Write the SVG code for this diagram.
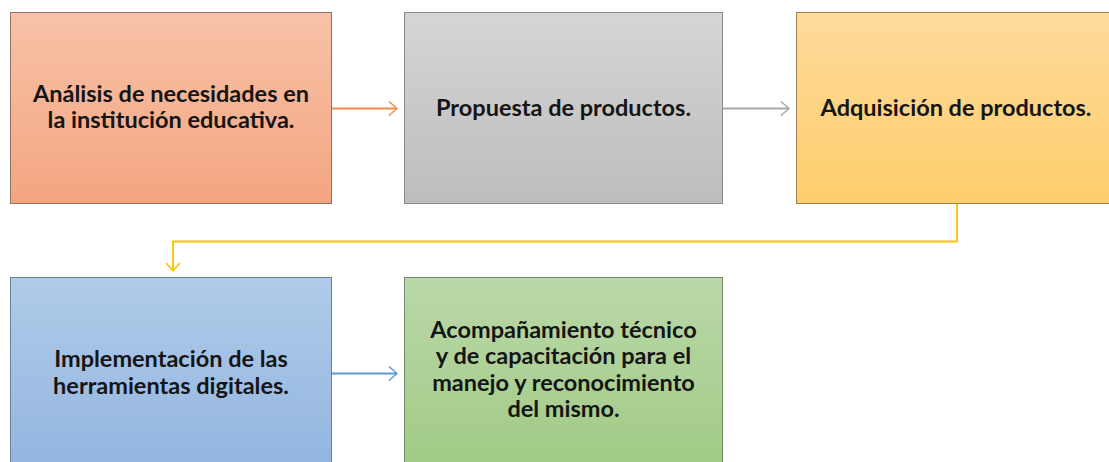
<svg xmlns="http://www.w3.org/2000/svg" width="1109" height="462" viewBox="0 0 1109 462">
<defs>
<linearGradient id="gOrange" x1="0" y1="0" x2="0" y2="1"><stop offset="0" stop-color="#F8C2A8"/><stop offset="1" stop-color="#F4A580"/></linearGradient>
<linearGradient id="gGray" x1="0" y1="0" x2="0" y2="1"><stop offset="0" stop-color="#D5D5D5"/><stop offset="1" stop-color="#BDBDBD"/></linearGradient>
<linearGradient id="gYellow" x1="0" y1="0" x2="0" y2="1"><stop offset="0" stop-color="#FEDB9C"/><stop offset="1" stop-color="#FECD6C"/></linearGradient>
<linearGradient id="gBlue" x1="0" y1="0" x2="0" y2="1"><stop offset="0" stop-color="#B0CBE9"/><stop offset="1" stop-color="#93B5E0"/></linearGradient>
<linearGradient id="gGreen" x1="0" y1="0" x2="0" y2="1"><stop offset="0" stop-color="#BAD8A8"/><stop offset="1" stop-color="#A0CA86"/></linearGradient>
<marker id="mOrange" markerWidth="10" markerHeight="16" refX="9" refY="8" orient="auto" markerUnits="userSpaceOnUse"><path d="M1,1 L9,8 L1,15" fill="none" stroke="#F08A4B" stroke-width="1.5"/></marker>
<marker id="mGray" markerWidth="10" markerHeight="16" refX="9" refY="8" orient="auto" markerUnits="userSpaceOnUse"><path d="M1,1 L9,8 L1,15" fill="none" stroke="#A8A8A8" stroke-width="1.5"/></marker>
<marker id="mYellow" markerWidth="10" markerHeight="16" refX="9" refY="8" orient="auto" markerUnits="userSpaceOnUse"><path d="M1,1 L9,8 L1,15" fill="none" stroke="#FFC000" stroke-width="1.5"/></marker>
<marker id="mBlue" markerWidth="10" markerHeight="16" refX="9" refY="8" orient="auto" markerUnits="userSpaceOnUse"><path d="M1,1 L9,8 L1,15" fill="none" stroke="#5B9BD5" stroke-width="1.5"/></marker>
</defs>
<style>
text{font-family:Lato,"Liberation Sans",sans-serif;font-weight:bold;font-size:23.5px;fill:#151515;text-anchor:middle}
.conn{fill:none;stroke-width:1.8}
</style>
<rect width="1109" height="462" fill="#FFFFFF"/>
<g id="node1">
<rect x="10.5" y="12.5" width="321" height="191" fill="url(#gOrange)" stroke="#8E7263" stroke-width="1"/>
<text x="171" y="102">Análisis de necesidades en</text>
<text x="171" y="128">la institución educativa.</text>
</g>
<g id="node2">
<rect x="404.5" y="12.5" width="318" height="191" fill="url(#gGray)" stroke="#8A8A8A" stroke-width="1"/>
<text x="563.5" y="116">Propuesta de productos.</text>
</g>
<g id="node3">
<rect x="796.5" y="12.5" width="321" height="191" fill="url(#gYellow)" stroke="#9C8350" stroke-width="1"/>
<text x="956" y="116">Adquisición de productos.</text>
</g>
<g id="node4">
<rect x="10.5" y="277.5" width="321" height="191" fill="url(#gBlue)" stroke="#6A7F99" stroke-width="1"/>
<text x="171" y="367">Implementación de las</text>
<text x="171" y="394">herramientas digitales.</text>
</g>
<g id="node5">
<rect x="404.5" y="277.5" width="318" height="191" fill="url(#gGreen)" stroke="#758A66" stroke-width="1"/>
<text x="563.5" y="338">Acompañamiento técnico</text>
<text x="563.5" y="364">y de capacitación para el</text>
<text x="563.5" y="391">manejo y reconocimiento</text>
<text x="563.5" y="417">del mismo.</text>
</g>
<g id="connectors">
<path class="conn" d="M332,108.5 L397,108.5" stroke="#F08A4B" marker-end="url(#mOrange)"/>
<path class="conn" d="M723,108.5 L789,108.5" stroke="#A8A8A8" marker-end="url(#mGray)"/>
<path class="conn" d="M957,204 L957,241.5 L173,241.5 L173,271" stroke="#FFC000" marker-end="url(#mYellow)"/>
<path class="conn" d="M332,373.5 L397,373.5" stroke="#5B9BD5" marker-end="url(#mBlue)"/>
</g>
</svg>
